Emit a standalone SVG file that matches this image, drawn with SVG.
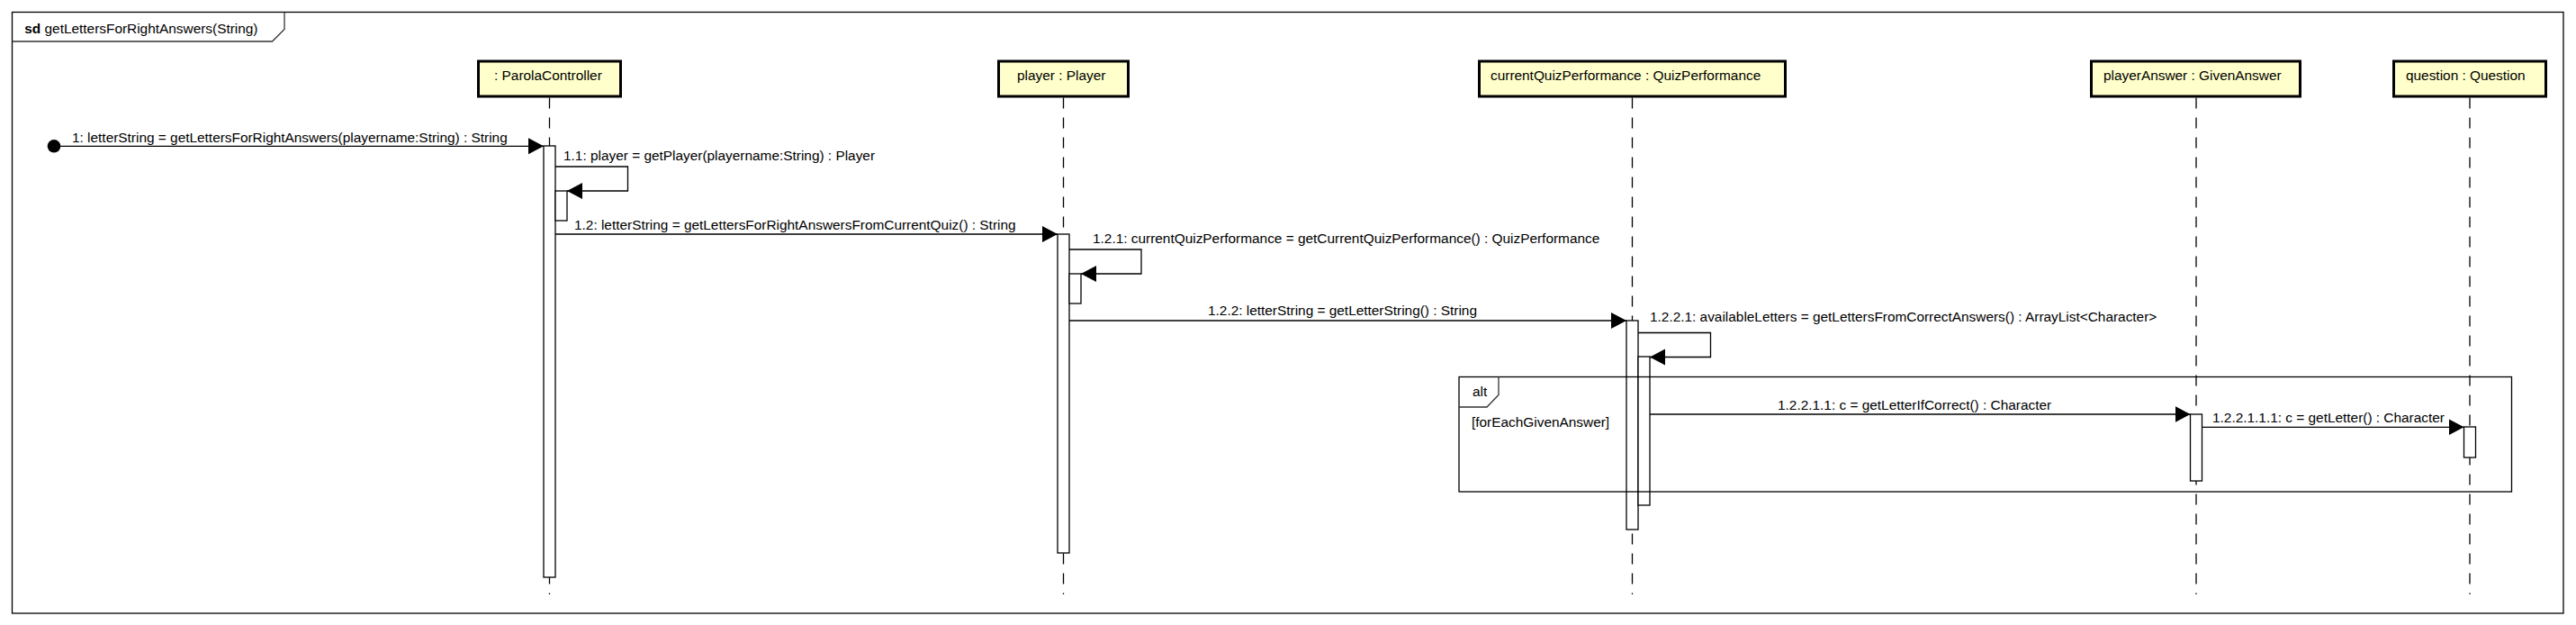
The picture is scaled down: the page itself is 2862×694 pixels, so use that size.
<svg xmlns="http://www.w3.org/2000/svg" width="2862" height="694" viewBox="0 0 2862 694">
<defs>
<style>
.t{font-family:"Liberation Sans",Arial,sans-serif;font-size:15.4px;fill:#000}
.b{font-weight:bold}
.box{fill:#FFFFCC;stroke:#000;stroke-width:3}
.ll{stroke:#000;stroke-width:1.3;stroke-dasharray:12 10;fill:none}
.bar{fill:#fff;stroke:#000;stroke-width:1.3}
.msg{stroke:#000;stroke-width:1.3;fill:none;marker-end:url(#ah)}
.frm{fill:none;stroke:#000;stroke-width:1.3}
.tab{fill:none;stroke:#333;stroke-width:1.3}
</style>
<marker id="ah" markerUnits="userSpaceOnUse" markerWidth="18" markerHeight="20" refX="17" refY="9" orient="auto">
<path d="M0,0 L17,9 L0,18 Z" fill="#000"/>
</marker>
</defs>
<rect width="2862" height="694" fill="#fff"/>

<g id="frame">
<rect class="frm" x="13.5" y="13.5" width="2834.5" height="667.5"/>
<path class="tab" d="M13.5,46 H302.5 L316,32.5 V13.5"/>
<text class="t" x="27.3" y="36.7"><tspan class="b">sd</tspan> getLettersForRightAnswers(String)</text>
</g>

<g id="node-parola">
<line class="ll" x1="610.5" y1="108.5" x2="610.5" y2="660"/>
<rect class="box" x="531.5" y="68" width="158" height="39"/>
<text class="t" x="549" y="89">: ParolaController</text>
<rect class="bar" x="604" y="162" width="13" height="479"/>
<rect class="bar" x="617" y="212" width="13" height="33"/>
</g>

<g id="node-player">
<line class="ll" x1="1181.5" y1="108.5" x2="1181.5" y2="660"/>
<rect class="box" x="1109.5" y="68" width="144" height="39"/>
<text class="t" x="1130" y="89">player : Player</text>
<rect class="bar" x="1175" y="260" width="13" height="354"/>
<rect class="bar" x="1188" y="304" width="13" height="33"/>
</g>

<g id="node-quiz">
<line class="ll" x1="1813.5" y1="108.5" x2="1813.5" y2="660"/>
<rect class="box" x="1643.5" y="68" width="340" height="39"/>
<text class="t" x="1656" y="89">currentQuizPerformance : QuizPerformance</text>
<rect class="bar" x="1807" y="356" width="13" height="232"/>
<rect class="bar" x="1820" y="396" width="13" height="165"/>
</g>

<g id="node-answer">
<line class="ll" x1="2440" y1="108.5" x2="2440" y2="660"/>
<rect class="box" x="2323.5" y="68" width="232" height="39"/>
<text class="t" x="2337" y="89">playerAnswer : GivenAnswer</text>
<rect class="bar" x="2433.5" y="460" width="13" height="74"/>
</g>

<g id="node-question">
<line class="ll" x1="2744" y1="108.5" x2="2744" y2="660"/>
<rect class="box" x="2659.5" y="68" width="169" height="39"/>
<text class="t" x="2673" y="89">question : Question</text>
<rect class="bar" x="2737.5" y="474" width="13" height="34"/>
</g>

<g id="fragment-alt">
<rect class="frm" x="1621" y="418.5" width="1169.5" height="127.5"/>
<path class="tab" d="M1621,452 H1652 L1665,438.5 V418.5"/>
<text class="t" x="1636" y="440">alt</text>
<text class="t" x="1635" y="474">[forEachGivenAnswer]</text>
</g>

<g id="connectors">
<circle cx="60" cy="162.3" r="7.3" fill="#000"/>
<line class="msg" x1="60" y1="162.3" x2="604" y2="162.3"/>
<text class="t" x="80" y="157.5">1: letterString = getLettersForRightAnswers(playername:String) : String</text>

<path class="msg" d="M617,185 H697.5 V212 H630"/>
<text class="t" x="626" y="178">1.1: player = getPlayer(playername:String) : Player</text>

<line class="msg" x1="617" y1="260" x2="1175" y2="260"/>
<text class="t" x="638" y="255">1.2: letterString = getLettersForRightAnswersFromCurrentQuiz() : String</text>

<path class="msg" d="M1188,277 H1268 V304 H1201"/>
<text class="t" x="1214" y="270">1.2.1: currentQuizPerformance = getCurrentQuizPerformance() : QuizPerformance</text>

<line class="msg" x1="1188" y1="356" x2="1807" y2="356"/>
<text class="t" x="1342" y="350">1.2.2: letterString = getLetterString() : String</text>

<path class="msg" d="M1820,369.5 H1900.5 V396.5 H1833"/>
<text class="t" x="1833" y="357">1.2.2.1: availableLetters = getLettersFromCorrectAnswers() : ArrayList&lt;Character&gt;</text>

<line class="msg" x1="1833" y1="460" x2="2433.5" y2="460"/>
<text class="t" x="1975" y="455">1.2.2.1.1: c = getLetterIfCorrect() : Character</text>

<line class="msg" x1="2446.5" y1="474.3" x2="2737.5" y2="474.3"/>
<text class="t" x="2458" y="469">1.2.2.1.1.1: c = getLetter() : Character</text>
</g>
</svg>
